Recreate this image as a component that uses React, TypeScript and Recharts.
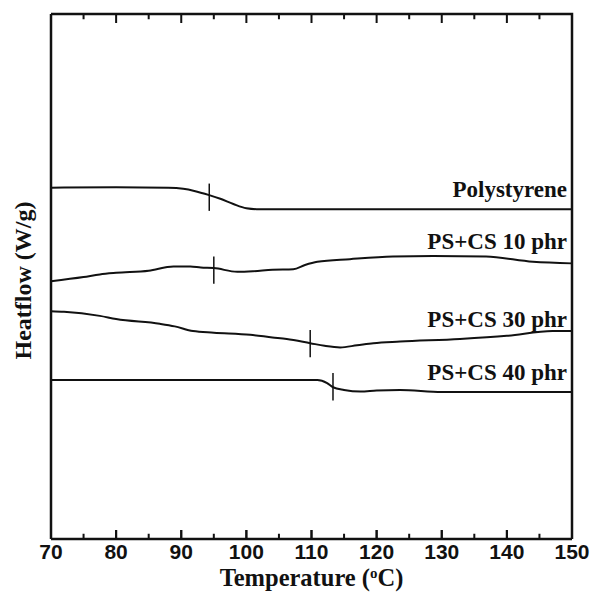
import { LineChart, Line, XAxis, YAxis, ReferenceLine, ReferenceDot } from "recharts";

// DSC heat flow curves (arbitrary units)
const psTemp = [70, 80, 88, 90.3, 92, 94.3, 96, 98, 100, 102, 110, 120, 130, 140, 150];
const psFlow = [66.9, 67.0, 66.9, 66.7, 66.3, 65.5, 64.8, 63.8, 63.0, 62.8, 62.8, 62.8, 62.8, 62.8, 62.8];

const cs10Temp = [70, 75, 77.5, 80, 85, 88.8, 91.4, 93, 95, 98.6, 101, 104, 107.2, 109, 110.9, 115.9, 122.5, 128.7, 136.8, 144, 150];
const cs10Flow = [49.1, 49.9, 50.4, 50.7, 51.1, 51.9, 51.9, 51.7, 51.6, 50.9, 51.0, 51.3, 51.4, 52.2, 52.8, 53.3, 53.8, 53.9, 53.8, 52.8, 52.5];

const cs30Temp = [70, 72, 77.5, 80, 86.7, 89, 91.8, 95, 100.6, 104, 106.2, 109.8, 112, 114.4, 117, 119.5, 123.6, 132.8, 140, 147, 150];
const cs30Flow = [43.4, 43.3, 42.5, 41.9, 41.0, 40.5, 39.6, 39.3, 38.9, 38.4, 38.1, 37.3, 36.8, 36.5, 36.9, 37.3, 37.6, 38.1, 38.7, 39.6, 39.6];

const cs40Temp = [70, 90, 110.9, 112.4, 113.3, 115, 117.5, 120, 123.6, 130, 140, 150];
const cs40Flow = [30.3, 30.3, 30.3, 29.7, 28.9, 28.4, 28.1, 28.3, 28.4, 28.0, 28.0, 28.0];

const seriesNames = ["Polystyrene", "PS+CS 10 phr", "PS+CS 30 phr", "PS+CS 40 phr"];
// Tg marks
const tgTemp = [94.3, 95, 109.8, 113.3];
const tgFlow = [65.1, 51.2, 37.2, 29.0];
const TG_HALF = 2.6;
// where each curve name sits (value of the text baseline)
const nameFlow = [65.1, 55.3, 40.4, 30.3];

const majorTicks = [70, 80, 90, 100, 110, 120, 130, 140, 150];
const minorTicks = [75, 85, 95, 105, 115, 125, 135, 145];

const Y_MIN = 0;
const Y_MAX = 100;
const MAJOR_LEN = 1.7; // heat-flow units, ~9px
const MINOR_LEN = 1.0;
const INK = "#111";

const toRows = (t: number[], f: number[]) => t.map((temp, i) => ({ t: temp, f: f[i] }));
const series = [
  toRows(psTemp, psFlow),
  toRows(cs10Temp, cs10Flow),
  toRows(cs30Temp, cs30Flow),
  toRows(cs40Temp, cs40Flow),
];

// top + right border of the box, drawn as a plain polyline
const frameRows = [
  { t: 70, f: Y_MAX },
  { t: 150, f: Y_MAX },
  { t: 150, f: Y_MIN },
];

// inward tick marks: short strokes split by null gaps
const tickRows = (base: number, dir: number) => {
  const out: { t: number; f: number | null }[] = [];
  const all = [
    ...majorTicks.map((t) => ({ t, len: MAJOR_LEN })),
    ...minorTicks.map((t) => ({ t, len: MINOR_LEN })),
  ];
  all.forEach(({ t, len }) => {
    out.push({ t, f: base });
    out.push({ t, f: base + dir * len });
    out.push({ t, f: null });
  });
  return out;
};
const bottomTickRows = tickRows(Y_MIN, 1);
const topTickRows = tickRows(Y_MAX, -1);

const serif = "'Liberation Serif', 'Times New Roman', serif";
const sans = "'Liberation Sans', Arial, sans-serif";

export default function App() {
  return (
    <div style={{ position: "absolute", left: 0, top: 0, background: "#fff" }}>
      <LineChart width={593} height={592} margin={{ top: 14, right: 21, left: 0, bottom: 0 }}>
        <XAxis
          dataKey="t"
          type="number"
          domain={[70, 150]}
          ticks={majorTicks}
          interval={0}
          height={53}
          tickSize={-9}
          tickMargin={0}
          tickLine={{ stroke: INK, strokeWidth: 2 }}
          axisLine={{ stroke: INK, strokeWidth: 2.5 }}
          tick={(p: any) => (
            <text
              key={"lab" + p.payload.value}
              x={p.x}
              y={p.y + 29}
              textAnchor="middle"
              fontFamily={sans}
              fontWeight="bold"
              fontSize={21}
              fill={INK}
            >
              {p.payload.value}
            </text>
          )}
          label={{
            content: ({ viewBox }: any) => (
              <text
                x={viewBox.x + viewBox.width / 2}
                y={viewBox.y + 46.5}
                textAnchor="middle"
                fontFamily={serif}
                fontWeight="bold"
                fontSize={24.5}
                fill={INK}
              >
                Temperature (<tspan baselineShift="super" fontSize={15}>o</tspan>C)
              </text>
            ),
          }}
        />
        <YAxis
          type="number"
          domain={[Y_MIN, Y_MAX]}
          width={51}
          tick={false}
          tickLine={false}
          axisLine={{ stroke: INK, strokeWidth: 2.5 }}
          label={{
            content: ({ viewBox }: any) => {
              const cx = viewBox.x + 23;
              const cy = viewBox.y + viewBox.height / 2 + 4;
              return (
                <text
                  x={cx}
                  y={cy}
                  transform={`rotate(-90 ${cx} ${cy})`}
                  textAnchor="middle"
                  dominantBaseline="central"
                  fontFamily={serif}
                  fontWeight="bold"
                  fontSize={24}
                  fill={INK}
                >
                  Heatflow (W/g)
                </text>
              );
            },
          }}
        />
        {series.map((rows, i) => (
          <Line
            key={seriesNames[i]}
            data={rows}
            dataKey="f"
            type="monotone"
            stroke={INK}
            strokeWidth={2}
            dot={false}
            activeDot={false}
            isAnimationActive={false}
          />
        ))}
        <Line
          data={frameRows}
          dataKey="f"
          type="linear"
          stroke={INK}
          strokeWidth={2.5}
          dot={false}
          activeDot={false}
          isAnimationActive={false}
        />
        <Line
          data={bottomTickRows}
          dataKey="f"
          type="linear"
          stroke={INK}
          strokeWidth={2}
          dot={false}
          activeDot={false}
          isAnimationActive={false}
        />
        <Line
          data={topTickRows}
          dataKey="f"
          type="linear"
          stroke={INK}
          strokeWidth={2}
          dot={false}
          activeDot={false}
          isAnimationActive={false}
        />
        {tgTemp.map((t, i) => (
          <ReferenceLine
            key={"tg" + i}
            segment={[
              { x: t, y: tgFlow[i] - TG_HALF },
              { x: t, y: tgFlow[i] + TG_HALF },
            ]}
            stroke={INK}
            strokeWidth={1.5}
          />
        ))}
        {seriesNames.map((name, i) => (
          <ReferenceDot
            key={"name" + i}
            x={150}
            y={nameFlow[i]}
            r={0}
            shape={(p: any) => (
              <text
                x={p.cx - 5}
                y={p.cy}
                textAnchor="end"
                fontFamily={serif}
                fontWeight="bold"
                fontSize={23}
                fill={INK}
              >
                {name}
              </text>
            )}
          />
        ))}
      </LineChart>
    </div>
  );
}
